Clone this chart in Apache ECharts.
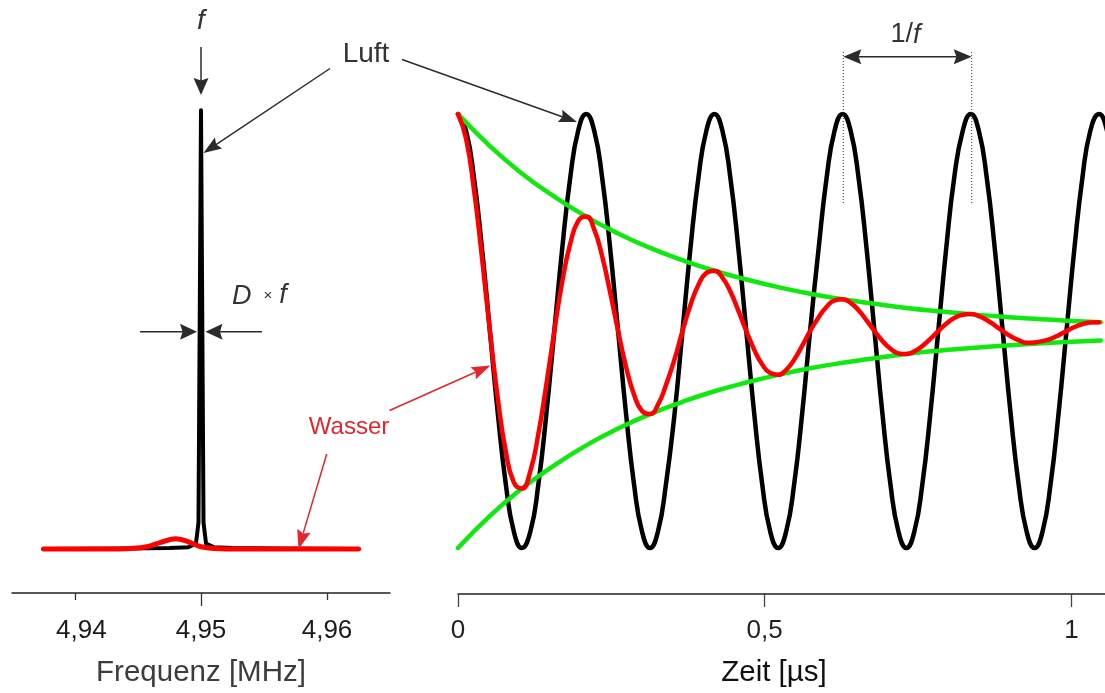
<!DOCTYPE html>
<html><head><meta charset="utf-8">
<script src="https://cdn.jsdelivr.net/npm/echarts@6/dist/echarts.min.js"></script>
<style>html,body{margin:0;padding:0;background:#fff}#c{width:1105px;height:693px}</style>
</head><body><div id="c"></div>
<script>
// ---------- data ----------
// Left panel: spectrum (frequency in MHz, relative amplitude)
const luftSpecFreq = [4.9375, 4.944, 4.9475, 4.9490, 4.9496, 4.9498, 4.95, 4.9502, 4.9504, 4.9510, 4.9525, 4.956, 4.9625];
const luftSpecAmp  = [0, 0.001, 0.002, 0.004, 0.012, 0.06, 0.995, 0.06, 0.012, 0.004, 0.002, 0.001, 0];
const wasserSpecFreq = [4.9375, 4.9430, 4.9444, 4.9457, 4.9468, 4.9480, 4.9489, 4.9495, 4.9500, 4.9510, 4.9520, 4.9625];
const wasserSpecAmp  = [0, 0, 0.001, 0.005, 0.015, 0.023, 0.017, 0.010, 0.005, 0.001, 0, 0];

// Right panel: time signals (time in µs, relative amplitude)
const signalTime = [0,0.013,0.026,0.039,0.052,0.065,0.078,0.091,0.104,0.118,0.131,0.144,0.157,0.170,0.183,0.196,
  0.209,0.222,0.235,0.248,0.261,0.274,0.287,0.300,0.313,0.326,0.339,0.353,0.366,0.379,0.392,0.405,
  0.418,0.431,0.444,0.457,0.470,0.483,0.496,0.509,0.522,0.535,0.548,0.561,0.574,0.588,0.601,0.614,
  0.627,0.640,0.653,0.666,0.679,0.692,0.705,0.718,0.731,0.744,0.757,0.770,0.783,0.796,0.809,0.823,
  0.836,0.849,0.862,0.875,0.888,0.901,0.914,0.927,0.940,0.953,0.966,0.979,0.992,1.005,1.018,1.031,
  1.045,1.058,1.071];
const luftSignal = [0.99,0.915,0.70,0.379,0,-0.379,-0.70,-0.915,-0.99,-0.915,-0.70,-0.379,0,0.379,0.70,0.915,
  0.99,0.915,0.70,0.379,0,-0.379,-0.70,-0.915,-0.99,-0.915,-0.70,-0.379,0,0.379,0.70,0.915,
  0.99,0.915,0.70,0.379,0,-0.379,-0.70,-0.915,-0.99,-0.915,-0.70,-0.379,0,0.379,0.70,0.915,
  0.99,0.915,0.70,0.379,0,-0.379,-0.70,-0.915,-0.99,-0.915,-0.70,-0.379,0,0.379,0.70,0.915,
  0.99,0.915,0.70,0.379,0,-0.379,-0.70,-0.915,-0.99,-0.915,-0.70,-0.379,0,0.379,0.70,0.915,
  0.99,0.915,0.70];
const wasserSignal = [0.990,0.879,0.646,0.336,0,-0.311,-0.551,-0.691,-0.719,-0.638,-0.469,-0.244,0,0.226,0.399,0.502,
  0.522,0.464,0.341,0.177,0,-0.164,-0.291,-0.365,-0.379,-0.336,-0.247,-0.129,0,0.119,0.211,0.265,
  0.275,0.244,0.180,0.093,0,-0.086,-0.153,-0.192,-0.200,-0.177,-0.131,-0.068,0,0.063,0.111,0.140,
  0.145,0.128,0.095,0.049,0,-0.046,-0.081,-0.102,-0.105,-0.093,-0.069,-0.036,0,0.033,0.059,0.074,
  0.077,0.068,0.050,0.026,0,-0.024,-0.042,-0.054,-0.052,-0.046,-0.036,-0.019,0,0.018,0.031,0.039,
  0.040];

const envTime  = [0,0.052,0.104,0.157,0.209,0.261,0.313,0.366,0.418,0.470,0.522,0.574,0.627,0.679,0.731,0.783,0.836,0.888,0.940,0.992,1.048];
const envUpper = [0.990,0.844,0.719,0.613,0.522,0.445,0.379,0.323,0.275,0.235,0.200,0.170,0.145,0.124,0.105,0.090,0.077,0.065,0.056,0.047,0.040];
const envLower = [-0.990,-0.844,-0.719,-0.613,-0.522,-0.445,-0.379,-0.323,-0.275,-0.235,-0.200,-0.170,-0.145,-0.124,-0.105,-0.090,-0.078,-0.067,-0.058,-0.050,-0.043];

const freqTickValues  = [4.94, 4.96];
const freqLabelValues = [4.9405, 4.95, 4.96];
const timeTicks = [0, 0.5, 1];

// ---------- helpers ----------
const FONT = "'Liberation Sans', Arial, Helvetica, sans-serif";
function pairs(xs, ys) { return ys.map((y, i) => [xs[i], y]); }
function fmt(v) { return String(+(+v).toFixed(2)).replace('.', ','); }
function arrow(x1, y1, x2, y2, color, len, w) {
  const dx = x2 - x1, dy = y2 - y1, L = Math.hypot(dx, dy), ux = dx / L, uy = dy / L;
  const bx = x2 - ux * len, by = y2 - uy * len;
  const px = -uy * w / 2, py = ux * w / 2;
  return [
    { type: 'line', z: 100, shape: { x1: x1, y1: y1, x2: bx + ux * 3, y2: by + uy * 3 }, style: { stroke: color, lineWidth: 1.5 } },
    { type: 'polygon', z: 100, shape: { points: [[x2, y2], [bx + px, by + py], [bx + ux * len * 0.15, by + uy * len * 0.15], [bx - px, by - py]] }, style: { fill: color } }
  ];
}
function txt(x, y, text, size, color, italic, align) {
  return { type: 'text', z: 100, x: x, y: y, style: { text: text, fill: color, fontSize: size, fontFamily: FONT, fontStyle: italic ? 'italic' : 'normal', align: align || 'center', verticalAlign: 'middle' } };
}

const ANN = '#2b2b2b', ANNRED = '#e3262d';
const graphics = [].concat(
  [txt(201, 21, 'f', 28, '#333', true)],
  arrow(201, 47, 201, 95, ANN, 17, 15),
  [txt(366, 54, 'Luft', 28, '#333', false)],
  arrow(330, 68.5, 203.5, 153, ANN, 18, 13),
  arrow(402, 59.5, 577, 122, ANN, 18, 13),
  [txt(913, 35, '1/', 27, '#333', false, 'right'), txt(913, 35, 'f', 27, '#333', true, 'left')],
  arrow(907, 56.7, 843.3, 56.7, ANN, 18, 15),
  arrow(907, 56.7, 971.7, 56.7, ANN, 18, 15),
  [
    { type: 'line', z: 99, shape: { x1: 843.3, y1: 52, x2: 843.3, y2: 204 }, style: { stroke: '#333', lineWidth: 1, lineDash: [1, 2] } },
    { type: 'line', z: 99, shape: { x1: 971.7, y1: 52, x2: 971.7, y2: 204 }, style: { stroke: '#333', lineWidth: 1, lineDash: [1, 2] } }
  ],
  [txt(232, 296.5, 'D', 27, '#333', true, 'left'), txt(268, 295.5, '×', 15, '#333', false), txt(283, 295.5, 'f', 27, '#333', true)],
  arrow(140, 331.7, 197, 331.7, ANN, 17, 16),
  arrow(262, 331.7, 205.5, 331.7, ANN, 17, 16),
  [txt(349, 427.5, 'Wasser', 24, ANNRED, false)],
  arrow(389.5, 410.5, 490.5, 365.5, ANNRED, 19, 13),
  arrow(326.7, 454, 298.5, 549, ANNRED, 19, 14)
);

const chart = echarts.init(document.getElementById('c'), null, { renderer: 'canvas' });
chart.setOption({
  animation: false,
  backgroundColor: '#fff',
  grid: [
    { left: 12, top: 64, width: 378, height: 532 },
    { left: 458, top: 68, width: 647, height: 530 }
  ],
  xAxis: [
    {
      gridIndex: 0, type: 'value', min: 4.935, max: 4.965, position: 'bottom',
      axisLine: { onZero: false, lineStyle: { color: '#222', width: 1.5 } },
      axisTick: { customValues: freqTickValues, length: 7, lineStyle: { color: '#333', width: 1.3 } },
      axisLabel: { customValues: freqLabelValues, formatter: fmt, margin: 25, fontSize: 26, color: '#1a1a1a', fontFamily: FONT },
      splitLine: { show: false },
      name: 'Frequenz [MHz]', nameLocation: 'middle', nameGap: 65,
      nameTextStyle: { fontSize: 29.5, color: '#3c3c3c', fontFamily: FONT }
    },
    {
      gridIndex: 1, type: 'value', min: 0, max: 1.0548, position: 'bottom',
      axisLine: { onZero: false, lineStyle: { color: '#222', width: 1.5 } },
      axisTick: { customValues: timeTicks, length: 13, lineStyle: { color: '#444', width: 1.3 } },
      axisLabel: { customValues: timeTicks, formatter: fmt, margin: 24, fontSize: 26, color: '#222', fontFamily: FONT },
      splitLine: { show: false },
      name: 'Zeit [µs]', nameLocation: 'middle', nameGap: 64,
      nameTextStyle: { fontSize: 29.5, color: '#111', fontFamily: FONT, padding: [0, 15, 0, 0] }
    },
    {
      gridIndex: 0, type: 'value', min: 4.935, max: 4.965, position: 'bottom',
      axisLine: { show: false, onZero: false },
      axisTick: { customValues: [4.95], length: 13, lineStyle: { color: '#333', width: 1.3 } },
      axisLabel: { show: false }, splitLine: { show: false }
    }
  ],
  yAxis: [
    { gridIndex: 0, type: 'value', min: -0.1, max: 1.1, show: false, axisLine: { onZero: false } },
    { gridIndex: 1, type: 'value', min: -1.2, max: 1.2, show: false, axisLine: { onZero: false } }
  ],
  series: [
    { type: 'line', xAxisIndex: 0, yAxisIndex: 0, data: pairs(luftSpecFreq, luftSpecAmp), symbol: 'none', z: 2,
      lineStyle: { color: '#000', width: 4, join: 'round', cap: 'round' } },
    { type: 'line', xAxisIndex: 0, yAxisIndex: 0, data: pairs(wasserSpecFreq, wasserSpecAmp), symbol: 'none', smooth: 0.4, z: 3,
      lineStyle: { color: '#ff0000', width: 5, join: 'round', cap: 'round' } },
    { type: 'line', xAxisIndex: 1, yAxisIndex: 1, data: pairs(signalTime, luftSignal), symbol: 'none', smooth: 0.5, z: 2,
      lineStyle: { color: '#000', width: 4.5, join: 'round', cap: 'round' } },
    { type: 'line', xAxisIndex: 1, yAxisIndex: 1, data: pairs(envTime, envUpper), symbol: 'none', smooth: 0.5, z: 3,
      lineStyle: { color: '#10e810', width: 4.5, cap: 'round' } },
    { type: 'line', xAxisIndex: 1, yAxisIndex: 1, data: pairs(envTime, envLower), symbol: 'none', smooth: 0.5, z: 3,
      lineStyle: { color: '#10e810', width: 4.5, cap: 'round' } },
    { type: 'line', xAxisIndex: 1, yAxisIndex: 1, data: pairs(signalTime, wasserSignal), symbol: 'none', smooth: 0.5, z: 4,
      lineStyle: { color: '#ff0000', width: 4.5, join: 'round', cap: 'round' } }
  ],
  graphic: graphics
});
</script>
</body></html>
